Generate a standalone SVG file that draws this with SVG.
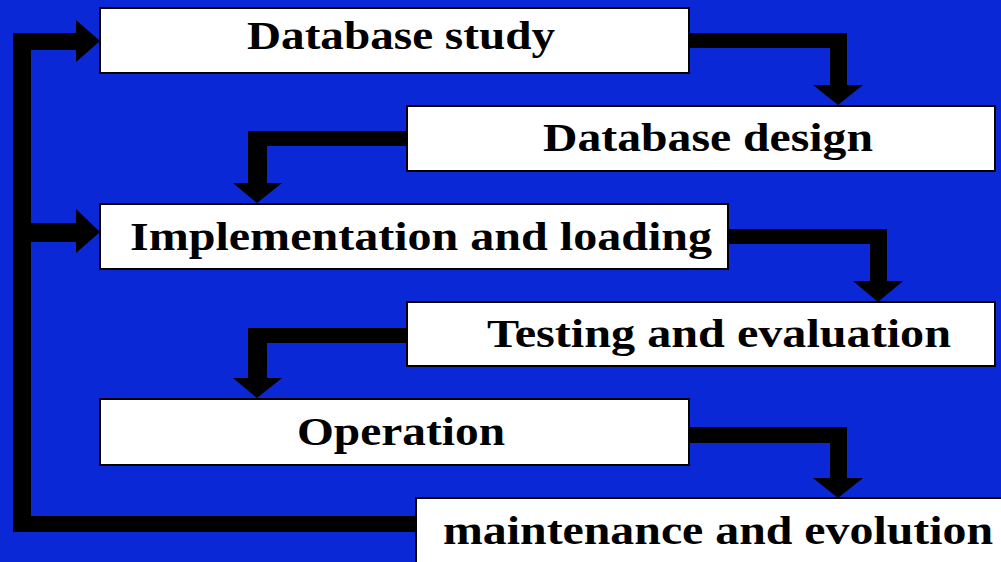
<svg xmlns="http://www.w3.org/2000/svg" width="1001" height="562" viewBox="0 0 1001 562">
<style>
.box{fill:#ffffff;stroke:#000000;stroke-width:2}
.lbl{font-family:"Liberation Serif","Times New Roman",serif;font-weight:bold;font-size:39px;fill:#000000}
.bar{fill:#000000}
</style>
<rect x="0" y="0" width="1001" height="562" fill="#0b28d6"/>
<g id="connectors">
  <path class="bar" d="M13,33 H78 V50 H31 V223 H78 V242 H31 V516 H416 V532 H13 Z"/>
  <polygon class="bar" points="76,20 100,41 76,62"/>
  <polygon class="bar" points="76,209 100,232 76,253"/>
  <path class="bar" d="M689,33 H847 V87 H830 V48 H689 Z"/>
  <polygon class="bar" points="813,85 863,85 838,105"/>
  <path class="bar" d="M407,131 H248 V185 H267 V146 H407 Z"/>
  <polygon class="bar" points="233,183 282,183 257,203"/>
  <path class="bar" d="M728,229 H887 V283 H870 V244 H728 Z"/>
  <polygon class="bar" points="853,281 903,281 878,302"/>
  <path class="bar" d="M407,328 H248 V380 H267 V343 H407 Z"/>
  <polygon class="bar" points="233,378 282,378 257,398"/>
  <path class="bar" d="M689,427 H847 V480 H830 V443 H689 Z"/>
  <polygon class="bar" points="813,478 863,478 838,498"/>
</g>
<g id="n1"><rect class="box" x="100" y="8" width="589" height="65"/><text class="lbl" x="247" y="49" textLength="308" lengthAdjust="spacingAndGlyphs">Database study</text></g>
<g id="n2"><rect class="box" x="407" y="106" width="588" height="65"/><text class="lbl" x="543" y="151" textLength="330" lengthAdjust="spacingAndGlyphs">Database design</text></g>
<g id="n3"><rect class="box" x="100" y="204" width="628" height="65"/><text class="lbl" x="130" y="250" textLength="582" lengthAdjust="spacingAndGlyphs">Implementation and loading</text></g>
<g id="n4"><rect class="box" x="407" y="302" width="588" height="64"/><text class="lbl" x="487" y="347" textLength="464" lengthAdjust="spacingAndGlyphs">Testing and evaluation</text></g>
<g id="n5"><rect class="box" x="100" y="399" width="589" height="66"/><text class="lbl" x="297" y="445" textLength="208" lengthAdjust="spacingAndGlyphs">Operation</text></g>
<g id="n6"><rect class="box" x="416" y="498" width="590" height="70"/><text class="lbl" x="443" y="544" textLength="550" lengthAdjust="spacingAndGlyphs">maintenance and evolution</text></g>
</svg>
